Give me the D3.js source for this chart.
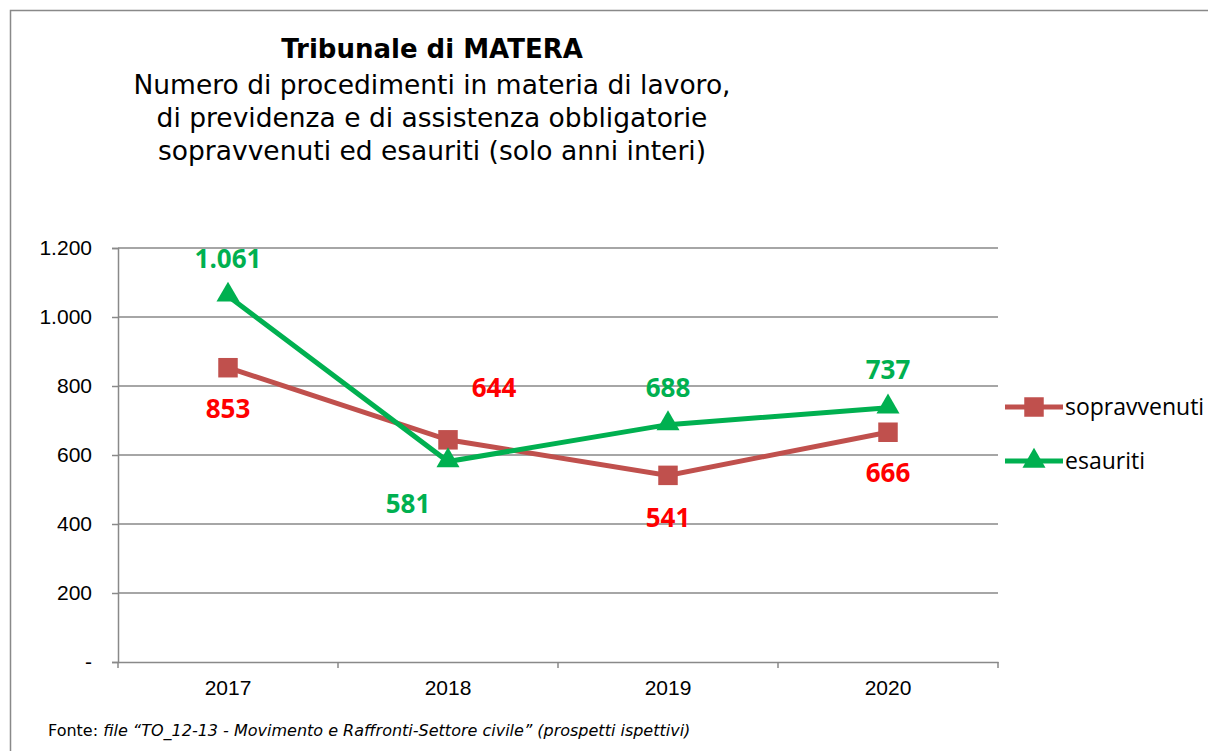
<!DOCTYPE html>
<html>
<head>
<meta charset="utf-8">
<script src="https://cdn.jsdelivr.net/npm/d3@7"></script>
<style>
  body { margin: 0; background: #fff; }
</style>
</head>
<body>
<div id="container"></div>
<script>
const years = ["2017", "2018", "2019", "2020"]
const sopravvenuti = [853, 644, 541, 666]
const esauriti = [1061, 581, 688, 737]
const yTicks = [0, 200, 400, 600, 800, 1000, 1200]
const titleLines = [
  "Numero di procedimenti in materia di lavoro,",
  "di previdenza e di assistenza obbligatorie",
  "sopravvenuti ed esauriti (solo anni interi)"
]

const width = 1208
const height = 751

const svg = d3.select("#container").append("svg")
    .attr("width", width)
    .attr("height", height)

// chart frame
svg.append("rect")
    .attr("x", 10.5).attr("y", 10.5)
    .attr("width", 1220).attr("height", 760)
    .attr("fill", "#fff")
    .attr("stroke", "#898989")
    .attr("stroke-width", 1.5)

const x = d3.scaleBand()
    .domain(years)
    .range([118, 998])

const y = d3.scaleLinear()
    .domain([0, 1200])
    .range([662, 248])

const fmt = d3.formatLocale({decimal: ",", thousands: ".", grouping: [3], currency: ["", "€"]}).format(",d")

// gridlines
svg.append("g")
    .selectAll("line")
    .data(yTicks.filter(d => d > 0))
    .enter()
    .append("line")
    .attr("x1", 118).attr("x2", 998)
    .attr("y1", d => y(d)).attr("y2", d => y(d))
    .attr("stroke", "#898989")
    .attr("stroke-width", 1.5)

// y axis
const yAxis = svg.append("g")
    .attr("transform", "translate(118,0)")
    .call(d3.axisLeft(y).tickValues(yTicks).tickSize(6).tickPadding(20)
        .tickFormat(d => d === 0 ? "-" : fmt(d)))
yAxis.select(".domain").attr("stroke", "#898989").attr("stroke-width", 1.5)
yAxis.selectAll(".tick line").attr("stroke", "#898989").attr("stroke-width", 1.5)
yAxis.selectAll("text")
    .attr("font-family", "Liberation Sans, Arial, sans-serif")
    .attr("font-size", 21)
    .attr("fill", "#000")

// x axis
const xAxis = svg.append("g")
    .attr("transform", "translate(0,662)")
    .call(d3.axisBottom(x).tickSize(0).tickPadding(18))
xAxis.select(".domain").attr("stroke", "#898989").attr("stroke-width", 1.5)
xAxis.selectAll("text")
    .attr("font-family", "Liberation Sans, Arial, sans-serif")
    .attr("font-size", 21)
    .attr("fill", "#000")
// category boundary ticks
const bounds = years.map(d => x(d)).concat([x.range()[1]])
xAxis.selectAll(".bound")
    .data(bounds)
    .enter()
    .append("line")
    .attr("class", "bound")
    .attr("x1", d => d).attr("x2", d => d)
    .attr("y1", 0).attr("y2", 6)
    .attr("stroke", "#898989")
    .attr("stroke-width", 1.5)

const cx = d => x(d) + x.bandwidth() / 2

const line = d3.line()
    .x((d, i) => cx(years[i]))
    .y(d => y(d))

const redLine = "#c0504d"
const greenLine = "#00b050"

svg.append("path")
    .datum(sopravvenuti)
    .attr("d", line)
    .attr("fill", "none")
    .attr("stroke", redLine)
    .attr("stroke-width", 5)

svg.append("path")
    .datum(esauriti)
    .attr("d", line)
    .attr("fill", "none")
    .attr("stroke", greenLine)
    .attr("stroke-width", 5)

const square = d3.symbol().type(d3.symbolSquare).size(380)
const triangle = d3.symbol().type(d3.symbolTriangle).size(230)

svg.selectAll(".sq")
    .data(sopravvenuti)
    .enter()
    .append("path")
    .attr("class", "sq")
    .attr("d", square)
    .attr("transform", (d, i) => `translate(${cx(years[i])},${y(d)})`)
    .attr("fill", redLine)

svg.selectAll(".tri")
    .data(esauriti)
    .enter()
    .append("path")
    .attr("class", "tri")
    .attr("d", triangle)
    .attr("transform", (d, i) => `translate(${cx(years[i])},${y(d) - 1})`)
    .attr("fill", greenLine)

// data labels: baseline offsets relative to the point
const redOffsets = [[0, 50], [46, -43], [0, 52], [0, 50]]
const greenOffsets = [[0, -28], [-40, 51], [0, -28], [0, -29]]

svg.selectAll(".rl")
    .data(sopravvenuti)
    .enter()
    .append("text")
    .attr("class", "rl")
    .attr("x", (d, i) => cx(years[i]) + redOffsets[i][0])
    .attr("y", (d, i) => y(d) + redOffsets[i][1])
    .attr("text-anchor", "middle")
    .attr("font-family", "Open Sans, Liberation Sans, sans-serif")
    .attr("font-weight", "bold")
    .attr("font-size", 26)
    .attr("fill", "#ff0000")
    .text(d => fmt(d))

svg.selectAll(".gl")
    .data(esauriti)
    .enter()
    .append("text")
    .attr("class", "gl")
    .attr("x", (d, i) => cx(years[i]) + greenOffsets[i][0])
    .attr("y", (d, i) => y(d) + greenOffsets[i][1])
    .attr("text-anchor", "middle")
    .attr("font-family", "Open Sans, Liberation Sans, sans-serif")
    .attr("font-weight", "bold")
    .attr("font-size", 26)
    .attr("fill", "#00b050")
    .text(d => fmt(d))

// legend
const legend = [
  {name: "sopravvenuti", color: redLine, shape: square, yy: 407},
  {name: "esauriti", color: greenLine, shape: triangle, yy: 461}
]
const lg = svg.selectAll(".lg")
    .data(legend)
    .enter()
    .append("g")
    .attr("class", "lg")
    .attr("transform", d => `translate(1005,${d.yy})`)
lg.append("line")
    .attr("x1", 0).attr("x2", 58)
    .attr("stroke", d => d.color)
    .attr("stroke-width", 5)
lg.append("path")
    .attr("d", d => d.shape())
    .attr("transform", "translate(29,0)")
    .attr("fill", d => d.color)
lg.append("text")
    .attr("x", 60)
    .attr("y", 8)
    .attr("font-family", "Open Sans, Liberation Sans, sans-serif")
    .attr("font-size", 23)
    .attr("fill", "#000")
    .text(d => d.name)

// title
svg.append("text")
    .attr("x", 432).attr("y", 58)
    .attr("text-anchor", "middle")
    .attr("font-family", "DejaVu Sans, Verdana, sans-serif")
    .attr("font-weight", "bold")
    .attr("font-size", 26)
    .text("Tribunale di MATERA")

svg.selectAll(".sub")
    .data(titleLines)
    .enter()
    .append("text")
    .attr("class", "sub")
    .attr("x", 432)
    .attr("y", (d, i) => 94 + i * 33)
    .attr("text-anchor", "middle")
    .attr("font-family", "DejaVu Sans, Verdana, sans-serif")
    .attr("font-size", 26.5)
    .text(d => d)

// source note
const note = svg.append("text")
    .attr("x", 48).attr("y", 736)
    .attr("font-family", "DejaVu Sans, Verdana, sans-serif")
    .attr("font-size", 16)
note.append("tspan").text("Fonte: ")
note.append("tspan").attr("font-style", "italic")
    .text("file \u201cTO_12-13 - Movimento e Raffronti-Settore civile\u201d (prospetti ispettivi)")
</script>
</body>
</html>
